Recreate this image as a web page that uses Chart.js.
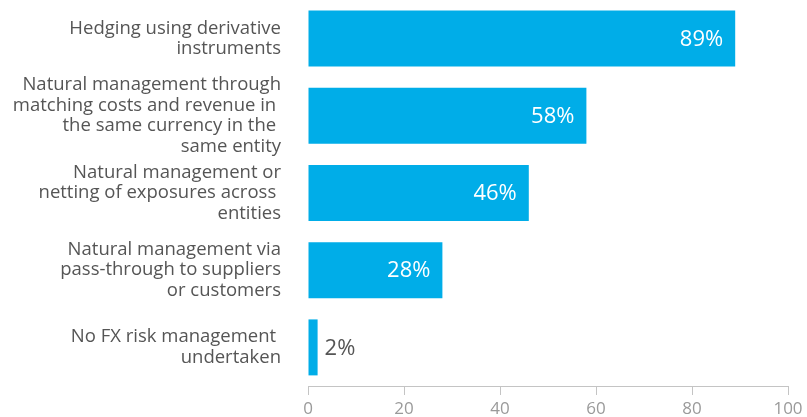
<!DOCTYPE html>
<html>
<head>
<meta charset="utf-8">
<script src="https://cdn.jsdelivr.net/npm/chart.js@4"></script>
<style>
  html, body { margin: 0; padding: 0; background: #fff; }
  #wrap { width: 807px; height: 417px; }
</style>
</head>
<body>
<div id="wrap"><canvas id="fxChart"></canvas></div>
<script>
// FX risk management approaches (% of respondents)
const categories = [
  ["Hedging using derivative", "instruments"],
  ["Natural management through", "matching costs and revenue in ", "the same currency in the ", "same entity"],
  ["Natural management or", "netting of exposures across ", "entities"],
  ["Natural management via", "pass-through to suppliers", "or customers"],
  ["No FX risk management ", "undertaken"]
];
const shares = [89, 58, 46, 28, 2];
const xTicks = [0, 20, 40, 60, 80, 100];

const FONT = "'Open Sans', 'DejaVu Sans', sans-serif";

/* value labels: inside the bar end, or just past it when the bar is too short */
const valueLabels = {
  id: "valueLabels",
  afterDatasetsDraw(chart) {
    const ctx = chart.ctx;
    const meta = chart.getDatasetMeta(0);
    ctx.save();
    ctx.font = "22px " + FONT;
    ctx.textBaseline = "middle";
    meta.data.forEach((bar, i) => {
      const txt = shares[i] + "%";
      const w = ctx.measureText(txt).width;
      const len = bar.x - bar.base;
      if (len > w + 24) {
        ctx.fillStyle = "#ffffff";
        ctx.textAlign = "right";
        ctx.fillText(txt, bar.x - 12, bar.y + 1);
      } else {
        ctx.fillStyle = "#555555";
        ctx.textAlign = "left";
        ctx.fillText(txt, bar.x + 7, bar.y + 1);
      }
    });
    ctx.restore();
  }
};

new Chart(document.getElementById("fxChart"), {
  type: "bar",
  data: {
    labels: categories,
    datasets: [{
      data: shares,
      backgroundColor: "#00ADE8",
      borderWidth: 0,
      categoryPercentage: 0.725,
      barPercentage: 1
    }]
  },
  options: {
    indexAxis: "y",
    responsive: true,
    maintainAspectRatio: false,
    animation: false,
    layout: { padding: { top: 0, right: 19, left: 0, bottom: 0 } },
    plugins: {
      legend: { display: false },
      tooltip: { enabled: false }
    },
    scales: {
      x: {
        min: 0,
        max: 100,
        afterBuildTicks(scale) {
          scale.ticks = xTicks.map(v => ({ value: v }));
        },
        afterFit(scale) {
          scale.height = 31;
          scale.paddingLeft = 0;
          scale.paddingRight = 0;
        },
        grid: {
          drawOnChartArea: false,
          drawTicks: true,
          tickLength: 9,
          color: "#c4c4c4"
        },
        border: { display: true, color: "#c4c4c4", width: 1 },
        ticks: {
          color: "#9a9a9a",
          font: { family: FONT, size: 17 },
          padding: 4,
          maxRotation: 0,
          autoSkip: false
        }
      },
      y: {
        afterFit(scale) {
          scale.width = 308;
          scale.paddingTop = 0;
          scale.paddingBottom = 0;
        },
        grid: { display: false, drawTicks: false },
        border: { display: false },
        ticks: {
          color: "#555555",
          font: { family: FONT, size: 18.5, lineHeight: 1.12 },
          padding: 27,
          autoSkip: false
        }
      }
    }
  },
  plugins: [valueLabels]
});
</script>
</body>
</html>
